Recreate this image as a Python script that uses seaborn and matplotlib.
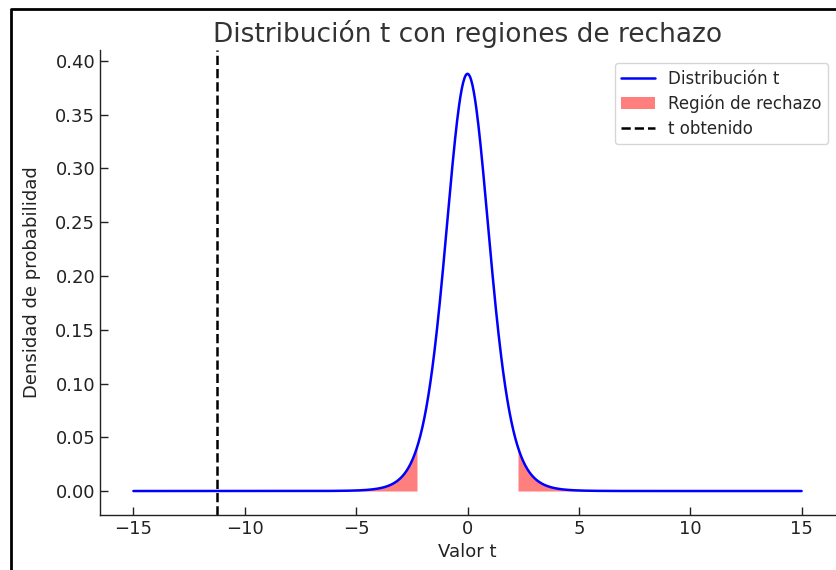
import math
import numpy as np
import pandas as pd
import matplotlib
matplotlib.use("Agg")
import matplotlib.pyplot as plt
from matplotlib.lines import Line2D
import seaborn as sns

# ---- data ----
degrees_of_freedom = 9          # peak ~0.388
x_range = [-15, 15]
t_critical = 2.262              # two-tailed, alpha = 0.05
t_obtained = -11.25
title = "Distribución t con regiones de rechazo"
x_label = "Valor t"
y_label = "Densidad de probabilidad"
legend_labels = ["Distribución t", "Región de rechazo", "t obtenido"]
x_ticks = [-15, -10, -5, 0, 5, 10, 15]
y_ticks = [0.00, 0.05, 0.10, 0.15, 0.20, 0.25, 0.30, 0.35, 0.40]


def t_pdf(x, nu):
    c = math.gamma((nu + 1) / 2) / (math.sqrt(nu * math.pi) * math.gamma(nu / 2))
    return c * (1 + x ** 2 / nu) ** (-(nu + 1) / 2)


x = np.linspace(x_range[0], x_range[1], 1000)
df = pd.DataFrame({"t": x, "pdf": t_pdf(x, degrees_of_freedom)})

sns.set_style("white")
plt.rcParams["font.family"] = ["DejaVu Sans"]

fig = plt.figure(figsize=(8.36, 5.70), dpi=100)
ax = fig.add_axes([100 / 836, 1 - 515 / 570, 735 / 836, 465 / 570])

sns.lineplot(data=df, x="t", y="pdf", ax=ax, color="blue", linewidth=1.8,
             label=legend_labels[0])
left = df[df["t"] <= -t_critical]
right = df[df["t"] >= t_critical]
ax.fill_between(left["t"], left["pdf"], color="red", alpha=0.5, linewidth=0,
                label=legend_labels[1])
ax.fill_between(right["t"], right["pdf"], color="red", alpha=0.5, linewidth=0)
ax.axvline(t_obtained, color="black", linestyle="--", linewidth=1.8,
           label=legend_labels[2])

ax.set_xlim(-16.5, 16.5)
ax.set_ylim(-0.0223, 0.4102)
ax.set_xticks(x_ticks)
ax.set_yticks(y_ticks)
ax.set_yticklabels([f"{v:.2f}" for v in y_ticks])
ax.tick_params(direction="in", length=6, width=1, labelsize=13, colors="#222222",
               left=True, bottom=True)
for s in ["top", "right"]:
    ax.spines[s].set_visible(False)
for s in ["left", "bottom"]:
    ax.spines[s].set_color("#222222")
    ax.spines[s].set_linewidth(1.0)

ax.set_title(title, fontsize=19, color="#333333", pad=6)
ax.set_xlabel(x_label, fontsize=13, color="#222222", labelpad=4)
ax.set_ylabel(y_label, fontsize=13, color="#222222", labelpad=10)

leg = ax.legend(loc="upper right", fontsize=12, frameon=True, fancybox=True,
                borderpad=0.4, labelspacing=0.4, handlelength=2.0,
                borderaxespad=0,
                bbox_to_anchor=(828 / 836, 1 - 63 / 570),
                bbox_transform=fig.transFigure)
leg.get_frame().set_edgecolor("#cccccc")

# screenshot frame on left and top
fig.add_artist(Line2D([11 / 836, 11 / 836, 1.0], [0.0, 1 - 9 / 570, 1 - 9 / 570],
                      transform=fig.transFigure, color="black", linewidth=2))

fig.savefig("out.png", dpi=100)
